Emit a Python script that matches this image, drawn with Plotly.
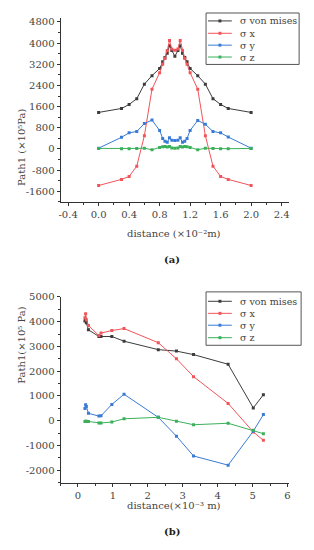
import plotly.graph_objects as go

# ---------- data (a) ----------
xa = [0, 0.3, 0.4, 0.5, 0.6, 0.7, 0.8, 0.84, 0.87, 0.9, 0.93, 0.96, 1.0,
      1.04, 1.07, 1.1, 1.13, 1.16, 1.2, 1.3, 1.4, 1.5, 1.6, 1.7, 2.0]
a_vm = [1380, 1530, 1680, 1900, 2450, 2770, 3040, 3300, 3460, 3620, 3900, 3720, 3500,
        3720, 3900, 3620, 3460, 3300, 3040, 2770, 2450, 1900, 1680, 1530, 1380]
a_sx = [-1380, -1150, -1040, -650, 500, 2260, 2880, 3200, 3420, 3720, 4100, 3780, 3730,
        3780, 4100, 3720, 3420, 3200, 2880, 2260, 500, -650, -1040, -1150, -1380]
a_sy = [30, 440, 610, 660, 960, 1090, 700, 400, 290, 250, 420, 330, 320,
        330, 420, 250, 290, 400, 700, 1080, 930, 660, 610, 450, 30]
a_sz = [20, 10, 10, 20, 30, -30, 60, 80, 90, 70, 90, 40, 30,
        40, 90, 70, 90, 80, 60, -30, 30, 20, 10, 10, 20]

# ---------- data (b) ----------
xb = [0.2, 0.22, 0.24, 0.3, 0.6, 0.66, 0.97, 1.32, 2.3, 2.82, 3.31, 4.3, 5.02, 5.31]
b_vm = [4020, 4060, 3950, 3670, 3400, 3400, 3400, 3210, 2870, 2810, 2670, 2280, 520, 1050]
b_sx = [4160, 4320, 4080, 3840, 3440, 3540, 3640, 3720, 3150, 2500, 1780, 700, -450, -790]
b_sy = [500, 650, 580, 300, 190, 200, 660, 1070, 140, -620, -1420, -1790, -420, 250]
b_sz = [-30, -20, -20, -30, -90, -90, -50, 80, 140, -20, -160, -100, -380, -520]

names = ["σ von mises", "σ x", "σ y", "σ z"]
colors = ["#3c3c3c", "#f0555a", "#3a7bd5", "#3bb05a"]

xa_ticks = [-0.4, 0.0, 0.4, 0.8, 1.2, 1.6, 2.0, 2.4]
xa_text = ["-0.4", "0.0", "0.4", "0.8", "1.2", "1.6", "2.0", "2.4"]
ya_ticks = [-1600, -800, 0, 800, 1600, 2400, 3200, 4000, 4800]
ya_text = ["-1600", "-800", "0", "800", "1600", "2400", "3200", "4000", "4800"]
xb_ticks = [0, 1, 2, 3, 4, 5, 6]
yb_ticks = [-2000, -1000, 0, 1000, 2000, 3000, 4000, 5000]
yb_text = ["-2000", "-1000", "0", "1000", "2000", "3000", "4000", "5000"]

FONT = "DejaVu Serif"
OFF = 8                      # default page body margin
W, H = 314 - OFF, 550 - OFF


def px(sx):
    return (sx - OFF) / W


def py(sy):
    return 1 - (sy - OFF) / H


fig = go.Figure()
for series, c, n in zip([a_vm, a_sx, a_sy, a_sz], colors, names):
    fig.add_trace(go.Scatter(x=xa, y=series, mode="lines+markers", name=n,
                             line=dict(color=c, width=1),
                             marker=dict(symbol="square", size=3, color=c),
                             xaxis="x", yaxis="y", showlegend=False))
for series, c, n in zip([b_vm, b_sx, b_sy, b_sz], colors, names):
    fig.add_trace(go.Scatter(x=xb, y=series, mode="lines+markers", name=n,
                             line=dict(color=c, width=1),
                             marker=dict(symbol="square", size=3, color=c),
                             xaxis="x2", yaxis="y2", showlegend=False))

xdom = [px(59), px(290)]
ax_common = dict(showgrid=False, zeroline=False, showline=True, linecolor="#333",
                 linewidth=1, ticks="outside", ticklen=3, tickcolor="#333",
                 tickfont=dict(family=FONT, size=10, color="#444"))


def minor(d):
    return dict(ticks="outside", ticklen=2, dtick=d, tick0=0, tickcolor="#333")


fig.update_layout(
    width=W, height=H, margin=dict(l=0, r=0, t=0, b=0),
    paper_bgcolor="white", plot_bgcolor="white", showlegend=False,
    xaxis=dict(domain=xdom, range=[-0.5, 2.5], tickvals=xa_ticks, ticktext=xa_text,
               anchor="y", minor=minor(0.2), **ax_common),
    yaxis=dict(domain=[py(198), py(12)], range=[-2000, 4950], tickvals=ya_ticks,
               ticktext=ya_text, anchor="x", minor=minor(400), **ax_common),
    xaxis2=dict(domain=xdom, range=[-0.5, 6.05], tickvals=xb_ticks, anchor="y2",
                minor=minor(0.5), **ax_common),
    yaxis2=dict(domain=[py(482), py(294)], range=[-2500, 5000], tickvals=yb_ticks,
                ticktext=yb_text, anchor="x2", minor=minor(500), **ax_common),
)

# ---------- manual compact legends ----------
leg_font = dict(family=FONT, size=9.5, color="#444")
legends = [dict(box=(206, 7, 300, 59), rows=[15, 27.5, 39.5, 51.5]),
           dict(box=(206, 289, 302, 343), rows=[298.5, 310.7, 322.7, 335.3])]
for lg in legends:
    x0, y0, x1, y1 = lg["box"]
    fig.add_shape(type="rect", xref="paper", yref="paper", x0=px(x0), x1=px(x1),
                  y0=py(y1), y1=py(y0), line=dict(color="#555", width=1),
                  fillcolor="white", layer="above")
    for r, c, n in zip(lg["rows"], colors, names):
        fig.add_shape(type="line", xref="paper", yref="paper", x0=px(208), x1=px(232),
                      y0=py(r), y1=py(r), line=dict(color=c, width=1), layer="above")
        fig.add_shape(type="rect", xref="paper", yref="paper", x0=px(218.5), x1=px(221.5),
                      y0=py(r + 1.5), y1=py(r - 1.5), line=dict(width=0),
                      fillcolor=c, layer="above")
        fig.add_annotation(text=n, x=px(238), y=py(r), xref="paper", yref="paper",
                           xanchor="left", yanchor="middle", showarrow=False, font=leg_font)

ann_font = dict(family=FONT, size=10, color="#444")
fig.add_annotation(text="Path1 (×10⁵Pa)", x=px(12), y=py(102), xref="paper",
                   yref="paper", textangle=-90, showarrow=False, font=ann_font)
fig.add_annotation(text="distance (×10⁻²m)", x=px(174), y=py(230), xref="paper",
                   yref="paper", showarrow=False, font=ann_font)
fig.add_annotation(text="<b>(a)</b>", x=px(172), y=py(256), xref="paper",
                   yref="paper", showarrow=False, font=dict(family=FONT, size=10, color="#222"))
fig.add_annotation(text="Path1(×10⁵ Pa)", x=px(12), y=py(384), xref="paper",
                   yref="paper", textangle=-90, showarrow=False, font=ann_font)
fig.add_annotation(text="distance(×10⁻³ m)", x=px(174), y=py(513), xref="paper",
                   yref="paper", showarrow=False, font=ann_font)
fig.add_annotation(text="<b>(b)</b>", x=px(172), y=py(539), xref="paper",
                   yref="paper", showarrow=False, font=dict(family=FONT, size=10, color="#222"))

fig.write_html("out.html")
